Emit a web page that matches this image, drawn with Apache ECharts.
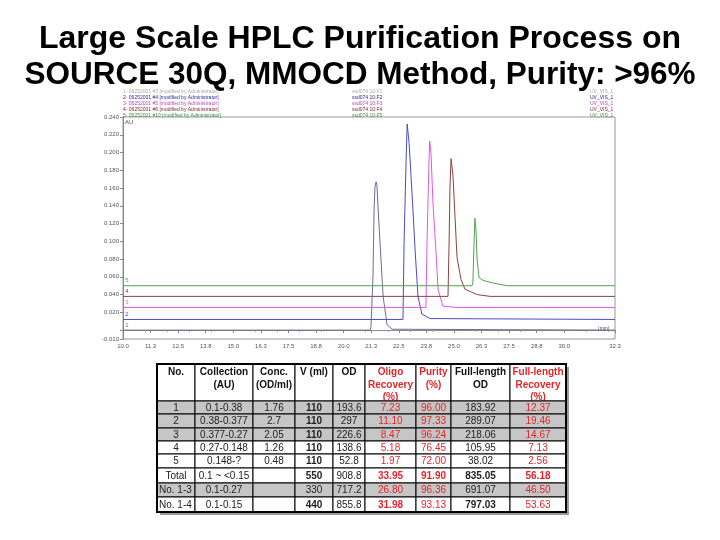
<!DOCTYPE html>
<html>
<head>
<meta charset="utf-8">
<script src="https://cdn.jsdelivr.net/npm/echarts@6/dist/echarts.min.js"></script>
<style>
  html, body { margin: 0; padding: 0; background: #fff; }
  #chart { width: 720px; height: 540px; }
</style>
</head>
<body>
<div id="chart"></div>
<script>
// chromatogram traces, [time (min), absorbance (AU)]
const trace1 = [[10, 0.000], [21.20, 0.000], [21.24, 0.004], [21.33, 0.060], [21.38, 0.135], [21.42, 0.161],
  [21.47, 0.167], [21.51, 0.163], [21.56, 0.138], [21.65, 0.098], [21.79, 0.038], [21.97, 0.006], [22.20, 0.001], [32.3, 0.000]];
const trace2 = [[10, 0.012], [22.69, 0.012], [22.74, 0.098], [22.83, 0.191], [22.88, 0.232], [22.97, 0.210],
  [23.10, 0.154], [23.24, 0.090], [23.37, 0.038], [23.55, 0.018], [23.92, 0.013], [32.3, 0.012]];
const trace3 = [[10, 0.0255], [23.73, 0.0255], [23.78, 0.098], [23.87, 0.191], [23.90, 0.213], [23.96, 0.199],
  [24.05, 0.143], [24.19, 0.087], [24.28, 0.046], [24.50, 0.027], [25.14, 0.0255], [32.3, 0.0255]];
const trace4 = [[10, 0.038], [24.73, 0.038], [24.78, 0.098], [24.82, 0.161], [24.87, 0.193], [24.96, 0.173],
  [25.05, 0.127], [25.14, 0.082], [25.32, 0.057], [25.50, 0.046], [26.05, 0.040], [26.64, 0.038], [32.3, 0.038]];
const trace5 = [[10, 0.050], [25.82, 0.050], [25.86, 0.053], [25.91, 0.098], [25.95, 0.126], [26.00, 0.113],
  [26.05, 0.079], [26.14, 0.059], [26.32, 0.056], [26.78, 0.053], [27.41, 0.050], [32.3, 0.050]];

const traceNames = ['1', '2', '3', '4', '5'];
const traceColors = ['#6d6d92', '#4b4bc8', '#e05ae0', '#8c4141', '#55a055'];
const headerColors = ['#aaaaaa', '#2b2b9c', '#c23cc2', '#7a2a2a', '#3f8f3f'];
const runNames = [
  '1- 06252001 #3 [modified by Administrator]',
  '2- 06252001 #4 [modified by Administrator]',
  '3- 06252001 #5 [modified by Administrator]',
  '4- 06252001 #6 [modified by Administrator]',
  '5- 06252001 #10 [modified by Administrator]'
];
const sampleNames = ['ssd074 10:F1', 'ssd074 10:F2', 'ssd074 10:F3', 'ssd074 10:F4', 'ssd074 10:F5'];
const channelName = 'UV_VIS_1';

const xTickLabels = [10, 11.25, 12.5, 13.75, 15, 16.25, 17.5, 18.75, 20, 21.25, 22.5, 23.75, 25, 26.25, 27.5, 28.75, 30, 32.3];
const yTickLabels = [-0.01, 0.02, 0.04, 0.06, 0.08, 0.10, 0.12, 0.14, 0.16, 0.18, 0.20, 0.22, 0.24];
const yTicks = [-0.01, 0, 0.02, 0.04, 0.06, 0.08, 0.10, 0.12, 0.14, 0.16, 0.18, 0.20, 0.22, 0.24];

// table
const tableHead = ['No.', 'Collection\n(AU)', 'Conc.\n(OD/ml)', 'V (ml)', 'OD', 'Oligo\nRecovery\n(%)', 'Purity\n(%)', 'Full-length\nOD', 'Full-length\nRecovery\n(%)'];
const rowNo = ['1', '2', '3', '4', '5', 'Total', 'No. 1-3', 'No. 1-4'];
const collection = ['0.1-0.38', '0.38-0.377', '0.377-0.27', '0.27-0.148', '0.148-?', '0.1 ~ <0.15', '0.1-0.27', '0.1-0.15'];
const conc = ['1.76', '2.7', '2.05', '1.26', '0.48', '', '', ''];
const volume = ['110', '110', '110', '110', '110', '550', '330', '440'];
const od = ['193.6', '297', '226.6', '138.6', '52.8', '908.8', '717.2', '855.8'];
const oligoRecovery = ['7.23', '11.10', '8.47', '5.18', '1.97', '33.95', '26.80', '31.98'];
const purity = ['96.00', '97.33', '96.24', '76.45', '72.00', '91.90', '96.36', '93.13'];
const flOD = ['183.92', '289.07', '218.06', '105.95', '38.02', '835.05', '691.07', '797.03'];
const flRecovery = ['12.37', '19.46', '14.67', '7.13', '2.56', '56.18', '46.50', '53.63'];

const columns = [rowNo, collection, conc, volume, od, oligoRecovery, purity, flOD, flRecovery];
const colEdges = [157, 195, 253, 295, 333, 365, 416, 451, 510, 566];
const rowEdges = [364, 401, 414, 428, 441, 454, 468, 483, 497, 512];
const redCols = [5, 6, 8];
const greyRows = [0, 1, 2, 6];
const boldCells = { 5: [3, 5, 6, 7, 8], 7: [3, 5, 7] };

const FONT = '"Liberation Sans", Arial, sans-serif';
const RED = '#e3262b';

const chart = echarts.init(document.getElementById('chart'));

const graphics = [];

// run header lines above the plot
runNames.forEach((t, i) => {
  const y = 92 + i * 6;
  const st = { fill: headerColors[i], font: '5px ' + FONT, textVerticalAlign: 'middle', verticalAlign: 'middle' };
  graphics.push({ type: 'text', x: 123, y: y, style: Object.assign({ text: t }, st) });
  graphics.push({ type: 'text', x: 352, y: y, style: Object.assign({ text: sampleNames[i] }, st) });
  graphics.push({ type: 'text', x: 590, y: y, style: Object.assign({ text: channelName }, st) });
});
graphics.push({ type: 'text', x: 125, y: 122, style: { text: 'AU', fill: '#555', font: '6px ' + FONT, textVerticalAlign: 'middle', verticalAlign: 'middle' } });
graphics.push({ type: 'text', x: 598, y: 329, style: { text: '(min)', fill: '#555', font: '5px ' + FONT, textVerticalAlign: 'middle', verticalAlign: 'middle' } });

// table shadow
const tW = colEdges[colEdges.length - 1] - colEdges[0];
const tH = rowEdges[rowEdges.length - 1] - rowEdges[0];
graphics.push({ type: 'rect', shape: { x: colEdges[0] + 3, y: rowEdges[0] + 3, width: tW, height: tH }, style: { fill: '#9a9a9a' } });
graphics.push({ type: 'rect', shape: { x: colEdges[0], y: rowEdges[0], width: tW, height: tH }, style: { fill: '#fff' } });

// header
tableHead.forEach((h, c) => {
  const x0 = colEdges[c], x1 = colEdges[c + 1];
  graphics.push({ type: 'rect', shape: { x: x0, y: rowEdges[0], width: x1 - x0, height: rowEdges[1] - rowEdges[0] },
    style: { fill: '#fff', stroke: '#000', lineWidth: 1 } });
  graphics.push({ type: 'text', x: (x0 + x1) / 2, y: rowEdges[0] + 2,
    style: { text: h, fill: redCols.includes(c) ? RED : '#111', font: 'bold 10px ' + FONT, lineHeight: 12.5,
      textAlign: 'center', align: 'center', textVerticalAlign: 'top', verticalAlign: 'top' } });
});

// body
rowNo.forEach((_, r) => {
  const y0 = rowEdges[r + 1], y1 = rowEdges[r + 2];
  columns.forEach((col, c) => {
    const x0 = colEdges[c], x1 = colEdges[c + 1];
    graphics.push({ type: 'rect', shape: { x: x0, y: y0, width: x1 - x0, height: y1 - y0 },
      style: { fill: greyRows.includes(r) ? '#c6c6c6' : '#fff', stroke: '#000', lineWidth: 1 } });
    const bold = (c === 3 && r < 5) || (boldCells[r] && boldCells[r].includes(c));
    const leftAlign = c === 0 && r > 5;
    graphics.push({ type: 'text', x: leftAlign ? x0 + 2 : (x0 + x1) / 2, y: (y0 + y1) / 2 + 0.5,
      style: { text: col[r], fill: redCols.includes(c) ? RED : '#222', font: (bold ? 'bold ' : '') + '10px ' + FONT,
        textAlign: leftAlign ? 'left' : 'center', align: leftAlign ? 'left' : 'center',
        textVerticalAlign: 'middle', verticalAlign: 'middle' } });
  });
});

// outer border
graphics.push({ type: 'rect', shape: { x: colEdges[0], y: rowEdges[0], width: tW, height: tH },
  style: { fill: 'none', stroke: '#000', lineWidth: 2 } });

const traces = [trace1, trace2, trace3, trace4, trace5];

const option = {
  animation: false,
  backgroundColor: '#fff',
  title: [
    { text: 'Large Scale HPLC Purification Process on', left: 'center', top: 18,
      textStyle: { fontSize: 32, fontWeight: 'bold', fontFamily: FONT, color: '#000' } },
    { text: 'SOURCE 30Q, MMOCD Method, Purity: >96%', left: 'center', top: 54,
      textStyle: { fontSize: 31.5, fontWeight: 'bold', fontFamily: FONT, color: '#000' } }
  ],
  grid: { left: 123, right: 105, top: 117, bottom: 201, show: true, borderColor: '#999', borderWidth: 1 },
  xAxis: {
    type: 'value', min: 10, max: 32.3,
    axisLine: { lineStyle: { color: '#888' } },
    axisTick: { length: 3, lineStyle: { color: '#888' }, customValues: xTickLabels },
    minorTick: { show: true, splitNumber: 5, length: 2, lineStyle: { color: '#aaa' } },
    axisLabel: { fontSize: 6, color: '#555', margin: 4, fontFamily: FONT, customValues: xTickLabels,
      formatter: v => v.toFixed(1) },
    splitLine: { show: false }
  },
  yAxis: {
    type: 'value', min: -0.01, max: 0.24,
    axisLine: { show: true, lineStyle: { color: '#888' } },
    axisTick: { show: true, length: 3, lineStyle: { color: '#888' }, customValues: yTicks },
    axisLabel: { fontSize: 6, color: '#555', margin: 4, fontFamily: FONT, customValues: yTickLabels,
      formatter: v => v.toFixed(3) },
    splitLine: { show: false }
  },
  series: traces.map((d, i) => ({
    name: traceNames[i],
    type: 'line',
    data: d,
    symbol: 'none',
    lineStyle: { width: 1, color: traceColors[i] },
    itemStyle: { color: traceColors[i] },
    markPoint: {
      symbol: 'circle', symbolSize: 0, silent: true,
      label: { show: true, position: 'top', distance: 2, offset: [4, 0], fontSize: 6, color: traceColors[i], fontFamily: FONT, formatter: traceNames[i] },
      data: [{ coord: d[0] }]
    }
  })),
  graphic: graphics
};

chart.setOption(option);
</script>
</body>
</html>
